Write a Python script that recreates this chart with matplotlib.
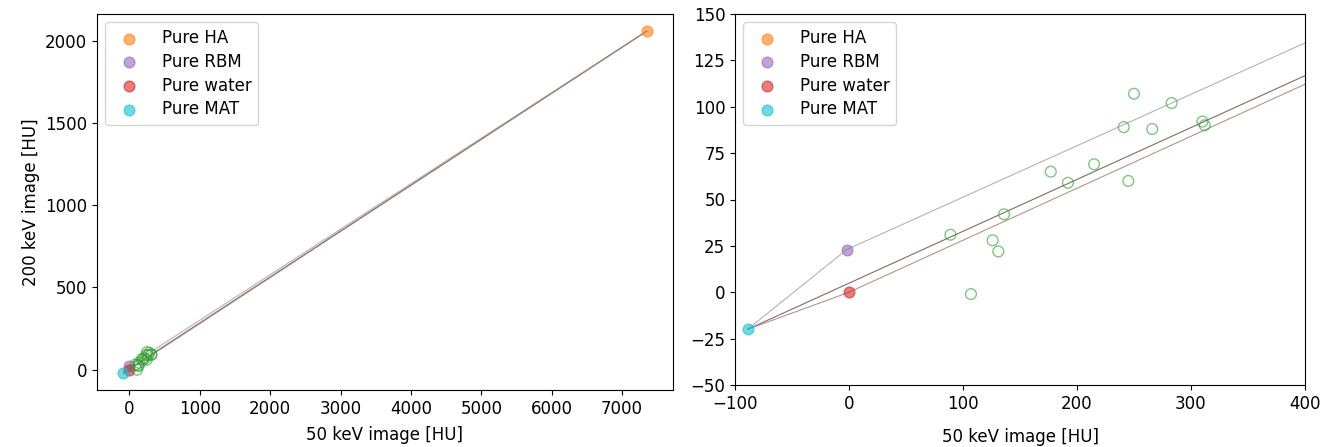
import numpy as np
import matplotlib.pyplot as plt

# pure materials (50 keV, 200 keV) in HU
pure_names = ["Pure HA", "Pure RBM", "Pure water", "Pure MAT"]
pure_x = [7352, -2, 0, -89]
pure_y = [2061, 23, 0, -20]
pure_colors = ["tab:orange", "tab:purple", "tab:red", "tab:cyan"]

# measured samples
meas_x = [89, 107, 126, 131, 136, 177, 192, 215, 241, 245, 250, 266, 283, 310, 312]
meas_y = [31, -1, 28, 22, 42, 65, 59, 69, 89, 60, 107, 88, 102, 92, 90]

# segments between pure materials (index pairs) and their styles
segments = [(3, 0), (1, 0), (2, 0), (3, 1), (3, 2)]
seg_colors = ["#5e4a45", "#a0a0a0", "#a07a74", "#a0a0a0", "#a07a74"]

fs = 12


def draw(ax, pad):
    for (i, j), c in zip(segments, seg_colors):
        ax.plot([pure_x[i], pure_x[j]], [pure_y[i], pure_y[j]], c=c, lw=0.8, alpha=0.8, zorder=1)
    for name, x, y, c in zip(pure_names, pure_x, pure_y, pure_colors):
        ax.scatter(x, y, color=c, alpha=0.6, s=60, label=name, zorder=2)
    ax.scatter(meas_x, meas_y, facecolors="none", edgecolors="tab:green", alpha=0.6, s=60, lw=1.0, zorder=3)
    ax.legend(loc="upper left", fontsize=fs, handletextpad=1.0, labelspacing=0.35)
    ax.set_xlabel("50 keV image [HU]", fontsize=fs, labelpad=pad)
    ax.tick_params(labelsize=fs)


fig = plt.figure(figsize=(13.28, 4.47), dpi=100)
ax1 = fig.add_axes([97 / 1328, 57 / 447, 576 / 1328, 376 / 447])
ax2 = fig.add_axes([735 / 1328, 62 / 447, 570 / 1328, 371 / 447])

draw(ax1, 6)
ax1.set_ylabel("200 keV image [HU]", fontsize=fs)
ax1.set_yticks([0, 500, 1000, 1500, 2000])
ax1.set_xticks(np.arange(0, 7001, 1000))

draw(ax2, 11)
ax2.set_xlim(-100, 400)
ax2.set_ylim(-50, 150)
ax2.set_yticks(np.arange(-50, 151, 25))

fig.savefig("out.png", dpi=100)
